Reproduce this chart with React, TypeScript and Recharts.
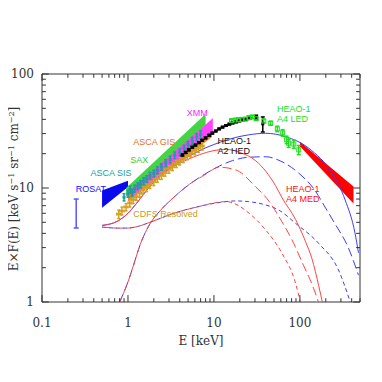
import React from "react";
import {
  ComposedChart,
  Line,
  Area,
  Scatter,
  ErrorBar,
  XAxis,
  YAxis,
  ReferenceDot,
  ReferenceLine,
  ReferenceArea,
} from "recharts";

// axis ticks
const xTicks = [
  0.1, 0.2, 0.3, 0.4, 0.5, 0.6, 0.7, 0.8, 0.9, 1, 2, 3, 4, 5, 6, 7, 8, 9, 10,
  20, 30, 40, 50, 60, 70, 80, 90, 100, 200, 300, 400, 500,
];
const xMajor = [0.1, 1, 10, 100];
const yTicks = [1, 2, 3, 4, 5, 6, 7, 8, 9, 10, 20, 30, 40, 50, 60, 70, 80, 90, 100];
const yMajor = [1, 10, 100];

// model curves: [E keV, E*F(E)]
const blueTotal = [
  [0.5, 4.7], [0.75, 5.1], [1.0, 6.0], [1.27, 7.4], [1.66, 9.6], [2.16, 12.0],
  [3.0, 14.8], [4.8, 18.5], [8, 22.5], [12, 25.3], [18, 27.8], [25, 29.2],
  [40, 30.2], [68, 28.2], [127, 22.3], [235, 13.5], [336, 7.85], [438, 4.0], [480, 2.7],
];
const redTotal = [
  [0.5, 4.7], [0.75, 5.1], [1.0, 6.0], [1.27, 7.4], [1.66, 9.6], [2.16, 12.0],
  [3.0, 14.5], [4.8, 17.6], [6.8, 19.6], [10, 21.3], [14, 21.8], [20, 20.5],
  [30.7, 17.3], [52, 10.5], [62, 8.2], [89, 5.3], [116, 3.4], [138, 2.4], [165, 1.4], [185, 0.95],
];
const blueLong = [
  [0.8, 1.0], [1.0, 1.5], [1.16, 2.1], [1.39, 3.2], [1.73, 4.6], [2.36, 6.3],
  [3.36, 8.2], [5.2, 10.8], [7.4, 12.9], [11.6, 15.6], [16.5, 17.4], [25, 18.6],
  [40, 18.8], [60, 17.2], [97, 13.5], [150, 9.5], [196, 6.8], [250, 5.0], [365, 3.0], [480, 1.72],
];
const redLong = [
  [0.8, 1.0], [1.0, 1.5], [1.16, 2.1], [1.39, 3.2], [1.73, 4.6], [2.36, 6.3],
  [3.36, 8.2], [5.2, 10.8], [7.4, 12.7], [11.6, 15.2], [18, 14.4], [30.7, 10.2],
  [44, 7.6], [57, 5.6], [81, 3.5], [110, 2.1], [140, 1.4], [168, 0.95],
];
const blueShort = [
  [0.5, 4.55], [0.75, 4.45], [1.0, 4.45], [1.3, 4.6], [1.8, 5.0], [2.5, 5.5],
  [3.67, 6.1], [6.8, 6.9], [12, 7.5], [18, 7.7], [25, 7.6], [40, 7.1], [57, 6.4],
  [89, 4.9], [165, 3.27], [281, 1.91], [390, 0.97],
];
const redShort = [
  [0.5, 4.55], [0.75, 4.45], [1.0, 4.45], [1.3, 4.6], [1.8, 5.0], [2.5, 5.5],
  [3.67, 6.1], [6.8, 6.9], [10, 7.4], [13.9, 7.6], [18, 7.2], [25.7, 6.0],
  [40, 4.28], [62, 2.67], [89, 1.46], [102, 0.97],
];

// bands: [E, low, high]
const rosatBand = [[0.5, 6.7, 9.5], [1.0, 10.2, 11.6]];
const gisBand = [[1.0, 7.6, 9.0], [9.5, 28, 35]];
const saxBand = [[0.95, 8.4, 10.0], [8.0, 35.7, 44.6]];
const xmmBand = [[1.1, 8.0, 9.8], [9.7, 31, 41]];
const medBand = [[100, 23.2, 25.4], [420, 7.3, 10.3]];

// ASCA SIS: [E, V, dV]
const sisPts = [
  [0.9, 8.3, 0.6], [1.0, 8.9, 0.6], [1.06, 9.7, 0.7], [1.12, 9.1, 0.6], [1.2, 9.9, 0.7],
  [1.3, 10.4, 0.7], [1.4, 10.8, 0.8], [1.52, 11.5, 0.8], [1.65, 12.0, 0.8], [1.8, 12.8, 0.9],
  [2.0, 13.4, 0.9], [2.2, 14.3, 1.0], [2.45, 15.3, 1.0], [2.75, 16.6, 1.1], [3.1, 17.8, 1.2],
  [3.5, 19.4, 1.3], [4.0, 20.6, 1.4], [4.5, 22.2, 1.5], [5.0, 24.0, 1.6], [5.6, 26.0, 1.8],
  [6.3, 28.0, 2.0], [7.0, 29.5, 2.2],
];
// CDFS resolved: [E, V, dE, dV]
const cdfsPts = [
  [0.78, 5.9, 0.04, 0.5], [0.85, 6.3, 0.05, 0.5], [0.95, 6.8, 0.05, 0.5], [1.05, 7.4, 0.05, 0.6],
  [1.15, 7.9, 0.06, 0.6], [1.25, 8.4, 0.06, 0.6], [1.37, 9.0, 0.07, 0.7], [1.5, 9.6, 0.07, 0.7],
  [1.65, 10.1, 0.08, 0.8], [1.8, 10.7, 0.09, 0.8], [2.0, 11.4, 0.1, 0.9], [2.2, 12.1, 0.11, 0.9],
  [2.45, 12.9, 0.12, 1.0], [2.7, 13.7, 0.13, 1.0], [3.0, 14.6, 0.15, 1.1], [3.3, 15.4, 0.16, 1.2],
  [3.65, 16.3, 0.18, 1.2], [4.0, 17.2, 0.2, 1.3], [4.4, 18.1, 0.22, 1.4], [4.9, 19.2, 0.24, 1.5],
  [5.4, 20.2, 0.27, 1.6], [6.0, 21.3, 0.3, 1.7], [6.6, 22.3, 0.33, 1.8], [7.3, 23.4, 0.36, 1.9],
];
// HEAO-1 A2 HED: [E, V, dV]
const hedPts = [
  [4.3, 19.5, 0.4], [4.7, 20.5, 0.4], [5.1, 21.6, 0.4], [5.6, 22.8, 0.4], [6.1, 23.8, 0.4],
  [6.7, 25.0, 0.4], [7.3, 26.2, 0.4], [8.0, 27.5, 0.5], [8.8, 29.0, 0.5], [9.6, 30.3, 0.5],
  [10.5, 31.6, 0.5], [11.5, 33.0, 0.5], [12.6, 34.2, 0.5], [13.8, 35.3, 0.5], [15.1, 36.3, 0.6],
  [16.5, 37.2, 0.6], [18.1, 38.0, 0.6], [19.8, 38.8, 0.6], [21.7, 39.5, 0.7], [23.8, 40.2, 0.7],
  [26, 40.8, 0.8], [31, 41.5, 2.0], [37, 36.5, 5.5],
];
// HEAO-1 A4 LED: [E, V, dV]
const ledPts = [
  [16, 39, 1], [17.6, 39.5, 1], [19.3, 39.8, 1], [21.2, 40, 1], [23.3, 40.2, 1],
  [25.5, 41.5, 1.2], [28, 42, 1.2], [31, 40.5, 1.2], [38, 38.7, 1.5], [45.7, 37, 1.5],
  [54.6, 33, 1.8], [63, 30.5, 2], [70, 26.5, 2], [74, 24.7, 2], [85, 24.3, 2], [97, 21.6, 2],
];
// single soft band bar: [E, V, down, up]
const softBar = [[0.25, 6.0, 1.54, 2.0]];

// labels: [text lines, E, V, color]
const tags: [string[], number, number, string][] = [
  [["XMM"], 4.83, 45.5, "#ff22ff"],
  [["ASCA GIS"], 1.15, 25.3, "#e0701e"],
  [["SAX"], 1.06, 17.6, "#33cc33"],
  [["ASCA SIS"], 0.367, 13.5, "#1a9e9e"],
  [["ROSAT"], 0.247, 9.8, "#1010ff"],
  [["CDFS Resolved"], 1.15, 5.9, "#cc9a1c"],
  [["HEAO-1", "A2 HED"], 11.0, 23.4, "#111111"],
  [["HEAO-1", "A4 LED"], 54.2, 45, "#22dd22"],
  [["HEAO-1", "A4 MED"], 68.9, 8.95, "#ff1010"],
];

const AX = "#333";
const SERIF = "DejaVu Serif, serif";
const SANS = "Liberation Sans, Arial, sans-serif";
const BLUE = "#3c3cff";
const RED = "#ff4444";
// inward tick lengths expressed as ratios on the log axes
const TICK_Y = { major: 1.15, minor: 1.08 };
const TICK_X = { major: 1.2, minor: 1.11 };

const pts = (a: number[][]) => a.map(([e, v]) => ({ e, v }));
const band = (a: number[][]) => a.map(([e, lo, hi]) => ({ e, r: [lo, hi] }));
const errPts = (a: number[][]) => a.map(([e, v, dv]) => ({ e, v, dv }));

// axis titles, placed relative to the plot frame
const Titles = (props: any) => {
  const vb = props.viewBox;
  const tx = vb.x - 28;
  const ty = vb.y + vb.height / 2 + 1;
  return (
    <g fontFamily={SERIF} fontSize={12} fill={AX}>
      <text x={vb.x + vb.width / 2} y={vb.y + vb.height + 39} dy="0.35em" textAnchor="middle">
        E [keV]
      </text>
      <text transform={`translate(${tx},${ty}) rotate(-90)`} textAnchor="middle" dy="0.35em">
        E×F(E) [keV s<tspan dy={-4} fontSize={8}>−1</tspan>
        <tspan dy={4}> sr</tspan>
        <tspan dy={-4} fontSize={8}>−1</tspan>
        <tspan dy={4}> cm</tspan>
        <tspan dy={-4} fontSize={8}>−2</tspan>
        <tspan dy={4}>]</tspan>
      </text>
    </g>
  );
};

const XLab = (props: any) => (
  <text x={props.viewBox.x} y={props.viewBox.y + 21} dy="0.35em" textAnchor="middle" fontFamily={SERIF} fontSize={12} fill={AX}>
    {props.text}
  </text>
);
const YLab = (props: any) => (
  <text x={props.viewBox.x - 8} y={props.viewBox.y} dy="0.35em" textAnchor="end" fontFamily={SERIF} fontSize={12} fill={AX}>
    {props.text}
  </text>
);

const Tag = (props: any) => {
  const { viewBox, lines, color } = props;
  const x = viewBox.x + viewBox.width / 2;
  const y = viewBox.y + viewBox.height / 2;
  const y0 = y - ((lines.length - 1) * 10) / 2;
  return (
    <text x={x} y={y0} fontFamily={SANS} fontSize={9} fill={color}>
      {lines.map((l: string, i: number) => (
        <tspan key={i} x={x} dy={i === 0 ? "0.35em" : 10}>
          {l}
        </tspan>
      ))}
    </text>
  );
};

const Sq = (color: string, size: number, hollow = false) => (p: any) => (
  <rect
    x={p.cx - size / 2}
    y={p.cy - size / 2}
    width={size}
    height={size}
    fill={hollow ? "none" : color}
    stroke={color}
    strokeWidth={hollow ? 1 : 0}
  />
);

export default function App() {
  const [x0, x1] = [0.1, 500];
  const [y0, y1] = [1, 100];
  return (
    <ComposedChart width={366} height={360} margin={{ top: 66, right: 14, bottom: 66, left: 34 }}>
      <XAxis dataKey="e" type="number" scale="log" domain={[x0, x1]} allowDataOverflow hide />
      <YAxis type="number" scale="log" domain={[y0, y1]} allowDataOverflow hide />

      <Area data={band(rosatBand)} dataKey="r" type="linear" stroke="none" fill="#0a0aee" fillOpacity={1} isAnimationActive={false} />
      <Area data={band(gisBand)} dataKey="r" type="linear" stroke="none" fill="#e8822e" fillOpacity={1} isAnimationActive={false} />
      <Area data={band(saxBand)} dataKey="r" type="linear" stroke="none" fill="#44d444" fillOpacity={1} isAnimationActive={false} />
      <Area data={band(xmmBand)} dataKey="r" type="linear" stroke="none" fill="#ff44ff" fillOpacity={1} isAnimationActive={false} />
      <Area data={band(medBand)} dataKey="r" type="linear" stroke="none" fill="#ff0000" fillOpacity={1} isAnimationActive={false} />

      <Line data={pts(blueTotal)} dataKey="v" type="monotone" stroke={BLUE} strokeWidth={1} dot={false} isAnimationActive={false} />
      <Line data={pts(blueLong)} dataKey="v" type="monotone" stroke={BLUE} strokeWidth={1} strokeDasharray="9 4" dot={false} isAnimationActive={false} />
      <Line data={pts(blueShort)} dataKey="v" type="monotone" stroke={BLUE} strokeWidth={1} strokeDasharray="4 3" dot={false} isAnimationActive={false} />
      <Line data={pts(redTotal)} dataKey="v" type="monotone" stroke={RED} strokeWidth={1} dot={false} isAnimationActive={false} />
      <Line data={pts(redLong)} dataKey="v" type="monotone" stroke={RED} strokeWidth={1} strokeDasharray="9 4" strokeDashoffset={4} dot={false} isAnimationActive={false} />
      <Line data={pts(redShort)} dataKey="v" type="monotone" stroke={RED} strokeWidth={1} strokeDasharray="4 3" strokeDashoffset={3} dot={false} isAnimationActive={false} />

      <Scatter data={cdfsPts.map(([e, v, de, dv]) => ({ e, v, de, dv }))} dataKey="v" shape={Sq("#d4a020", 2)} isAnimationActive={false}>
        <ErrorBar dataKey="dv" direction="y" width={1.5} stroke="#d4a020" isAnimationActive={false} />
        <ErrorBar dataKey="de" direction="x" width={1.5} stroke="#d4a020" isAnimationActive={false} />
      </Scatter>
      <Scatter data={errPts(sisPts)} dataKey="v" shape={Sq("#1a9e9e", 3)} isAnimationActive={false}>
        <ErrorBar dataKey="dv" direction="y" width={1.5} stroke="#1a9e9e" isAnimationActive={false} />
      </Scatter>
      <Scatter data={errPts(hedPts)} dataKey="v" shape={Sq("#000000", 3)} isAnimationActive={false}>
        <ErrorBar dataKey="dv" direction="y" width={2} stroke="#000000" isAnimationActive={false} />
      </Scatter>
      <Scatter data={errPts(ledPts)} dataKey="v" shape={Sq("#22dd22", 4, true)} isAnimationActive={false}>
        <ErrorBar dataKey="dv" direction="y" width={2} stroke="#22dd22" isAnimationActive={false} />
      </Scatter>
      <Scatter data={softBar.map(([e, v, lo, hi]) => ({ e, v, err: [lo, hi] }))} dataKey="v" shape={() => <g />} isAnimationActive={false}>
        <ErrorBar dataKey="err" direction="y" width={2.5} stroke="#5555ff" isAnimationActive={false} />
      </Scatter>

      {/* frame, inward ticks and tick labels */}
      <ReferenceArea x1={x0} x2={x1} y1={y0} y2={y1} fill="none" stroke={AX} ifOverflow="visible" label={<Titles />} />
      {xTicks.map((t) => {
        const k = xMajor.includes(t) ? TICK_Y.major : TICK_Y.minor;
        return (
          <React.Fragment key={`x${t}`}>
            <ReferenceLine segment={[{ x: t, y: y0 }, { x: t, y: y0 * k }]} stroke={AX} ifOverflow="visible" />
            <ReferenceLine segment={[{ x: t, y: y1 }, { x: t, y: y1 / k }]} stroke={AX} ifOverflow="visible" />
          </React.Fragment>
        );
      })}
      {yTicks.map((t) => {
        const k = yMajor.includes(t) ? TICK_X.major : TICK_X.minor;
        return (
          <React.Fragment key={`y${t}`}>
            <ReferenceLine segment={[{ x: x0, y: t }, { x: x0 * k, y: t }]} stroke={AX} ifOverflow="visible" />
            <ReferenceLine segment={[{ x: x1, y: t }, { x: x1 / k, y: t }]} stroke={AX} ifOverflow="visible" />
          </React.Fragment>
        );
      })}
      {xMajor.map((t) => (
        <ReferenceDot key={`xl${t}`} x={t} y={y0} r={0} fill="none" stroke="none" ifOverflow="visible" label={<XLab text={String(t)} />} />
      ))}
      {yMajor.map((t) => (
        <ReferenceDot key={`yl${t}`} x={x0} y={t} r={0} fill="none" stroke="none" ifOverflow="visible" label={<YLab text={String(t)} />} />
      ))}

      {tags.map(([lines, e, v, color], i) => (
        <ReferenceDot key={i} x={e} y={v} r={0} fill="none" stroke="none" label={<Tag lines={lines} color={color} />} />
      ))}
    </ComposedChart>
  );
}
